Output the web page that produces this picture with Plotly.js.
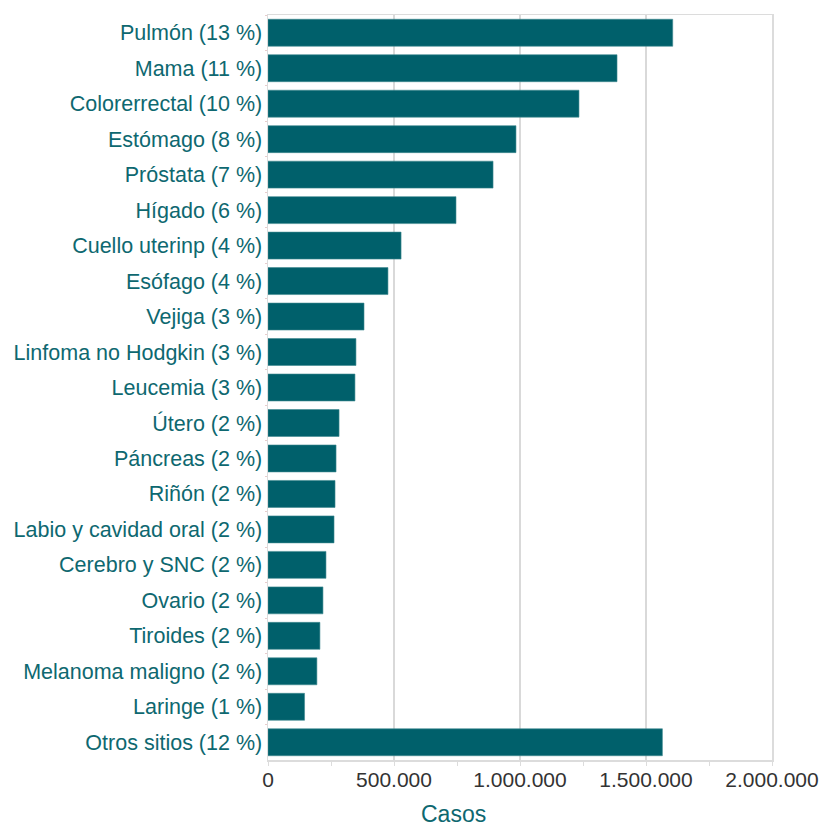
<!DOCTYPE html>
<html>
<head>
<meta charset="utf-8">
<script src="https://cdn.plot.ly/plotly-3.0.1.min.js"></script>
<style>html,body{margin:0;padding:0;background:#fff;}#chart{width:819px;height:828px;}</style>
</head>
<body>
<div id="chart"></div>
<script>
const categories = [
  "Pulmón (13 %)", "Mama (11 %)", "Colorerrectal (10 %)", "Estómago (8 %)", "Próstata (7 %)",
  "Hígado (6 %)", "Cuello uterinp (4 %)", "Esófago (4 %)", "Vejiga (3 %)", "Linfoma no Hodgkin (3 %)",
  "Leucemia (3 %)", "Útero (2 %)", "Páncreas (2 %)", "Riñón (2 %)", "Labio y cavidad oral (2 %)",
  "Cerebro y SNC (2 %)", "Ovario (2 %)", "Tiroides (2 %)", "Melanoma maligno (2 %)", "Laringe (1 %)",
  "Otros sitios (12 %)"
];
const casos = [
  1606000, 1385000, 1234000, 984000, 893000,
  746000, 528000, 476000, 381000, 349000,
  345000, 282000, 270000, 266000, 262000,
  230000, 218000, 206000, 194000, 145000,
  1565000
];
const xTickVals = [0, 500000, 1000000, 1500000, 2000000];

const trace = {
  type: 'bar',
  orientation: 'h',
  y: categories,
  x: casos,
  marker: {color: '#00606b', line: {color: '#3f8a91', width: 0.6}},
  hoverinfo: 'x+y'
};

const layout = {
  width: 819, height: 828,
  margin: {l: 268, r: 47, t: 15, b: 68},
  paper_bgcolor: '#fff', plot_bgcolor: '#fff',
  separators: ',.',
  bargap: 0.24,
  showlegend: false,
  font: {family: 'Liberation Sans, Arial, sans-serif', size: 21, color: '#333'},
  xaxis: {
    range: [0, 2000000],
    tickvals: xTickVals,
    tickformat: ',d',
    showgrid: true, gridcolor: '#d9d9d9', gridwidth: 1.5,
    zeroline: false,
    showline: true, linecolor: '#dcdcdc', linewidth: 1.5, mirror: true,
    ticks: 'outside', ticklen: 4, tickcolor: '#dcdcdc',
    ticklabelstandoff: -4,
    minor: {dtick: 250000, ticks: 'outside', ticklen: 4, tickcolor: '#dcdcdc', showgrid: false},
    tickfont: {size: 21, color: '#333'},
    fixedrange: true
  },
  yaxis: {
    autorange: 'reversed',
    type: 'category',
    showgrid: false,
    showline: true, linecolor: '#dcdcdc', linewidth: 1.5, mirror: true,
    ticks: 'outside', tickson: 'boundaries', ticklen: 2, tickcolor: '#e8cccc',
    tickfont: {size: 21.5, color: '#0e6870'},
    fixedrange: true
  },
  annotations: [{
    text: 'Casos', xref: 'paper', yref: 'paper',
    x: (453 - 268) / 504, y: -0.072, xanchor: 'center', yanchor: 'middle',
    showarrow: false, font: {size: 23, color: '#0e6870'}
  }]
};

Plotly.newPlot('chart', [trace], layout, {displayModeBar: false, staticPlot: true});
</script>
</body>
</html>
